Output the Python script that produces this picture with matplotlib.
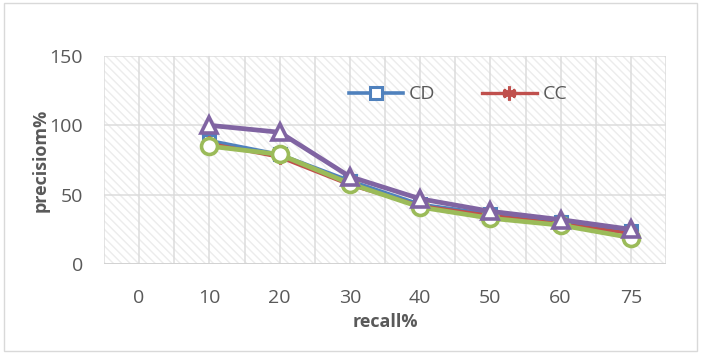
import matplotlib
matplotlib.use("Agg")
import matplotlib.pyplot as plt
from matplotlib.patches import Rectangle
import numpy as np

plt.rcParams['font.family'] = ['Open Sans', 'DejaVu Sans']
plt.rcParams['hatch.linewidth'] = 1.0

categories = ["0", "10", "20", "30", "40", "50", "60", "75"]
cd = [None, 89, 79, 60, 43, 36, 30, 24]
cc = [None, 87, 77, 57, 42, 35, 29, 22]
green = [None, 85, 79, 58, 41, 33, 28, 19]
purple = [None, 100, 95, 63, 47, 38, 32, 25]
yticks = [0, 50, 100, 150]

def arr(v):
    return np.array([np.nan if a is None else a for a in v], dtype=float)

fig = plt.figure(figsize=(7.01, 3.54), dpi=100)
ax = fig.add_axes([104/701, 1-264/354, (666-104)/701, (264-56)/354])

x = np.arange(len(categories))
ax.set_xlim(-0.5, len(categories)-0.5)
ax.set_ylim(0, 150)

# hatched background
ax.add_patch(Rectangle((0, 0), 1, 1, transform=ax.transAxes, facecolor='white',
                       edgecolor='#ececec', hatch='\\\\\\\\', linewidth=0, zorder=0))
for yv in yticks:
    ax.axhline(yv, color='#dcdcdc', lw=1.1, zorder=1)
for xv in np.arange(-0.5, len(categories)-0.49, 0.5):
    ax.axvline(xv, color='#dcdcdc', lw=1.1, zorder=1)
ax.axhline(0, color='#d0d0d0', lw=1.2, zorder=1)

lcd, = ax.plot(x, arr(cd), color='#4F81BD', lw=2.6, marker='s', ms=9,
               mfc='white', mec='#4F81BD', mew=2.2, label='CD', zorder=3)
lcc, = ax.plot(x, arr(cc), color='#C0504D', lw=2.4, marker=(6, 2, 0), ms=10,
               mec='#C0504D', mew=2.2, label='CC', zorder=4)
ax.plot(x, arr(green), color='#9BBB59', lw=3.4, marker='o', ms=11.5,
        mfc='white', mec='#9BBB59', mew=2.6, zorder=5)
ax.plot(x, arr(purple), color='#8064A2', lw=3.4, marker='^', ms=11,
        mfc='white', mec='#8064A2', mew=2.6, zorder=6)

for s in ax.spines.values():
    s.set_visible(False)
ax.set_xticks(x)
ax.set_xticklabels(categories)
ax.set_yticks(yticks)
ax.tick_params(length=0, labelsize=14, labelcolor='#595959')
ax.tick_params(axis='x', pad=18)
ax.tick_params(axis='y', pad=15)

ax.set_xlabel('recall%', fontsize=13, fontweight='bold', color='#595959', labelpad=4)
ax.set_ylabel('precisiom%', fontsize=13, fontweight='bold', color='#595959', labelpad=0)

leg = ax.legend(handles=[lcd, lcc], loc='center', bbox_to_anchor=(0.63, 0.815),
                ncol=2, frameon=False, fontsize=14, handlelength=2.8,
                columnspacing=2.4, handletextpad=0.3, labelcolor='#595959')

fig.patches.append(Rectangle((4/701, 3/354), 693/701, 348/354, transform=fig.transFigure,
                             fill=False, edgecolor='#d9d9d9', lw=1.0))

fig.savefig('out.png', dpi=100)
